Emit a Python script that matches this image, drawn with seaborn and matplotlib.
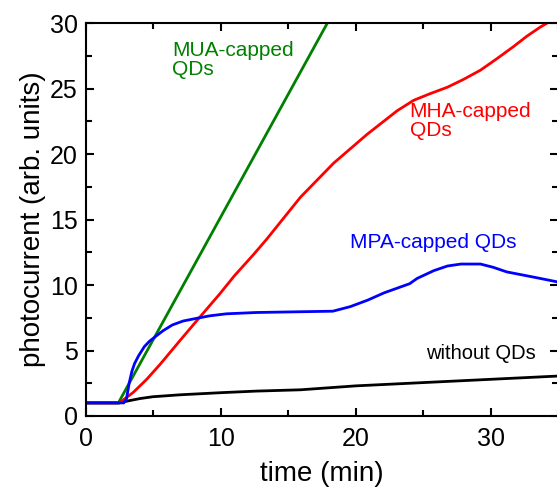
import matplotlib
matplotlib.use("Agg")
import matplotlib.pyplot as plt
from matplotlib.ticker import MultipleLocator
import pandas as pd
import seaborn as sns

# curves
t_none = [0, 1, 2, 2.45, 3.2, 4.0, 4.95, 7, 10, 12.6, 15.9, 20, 25, 30, 35]
i_none = [1.0, 1.0, 1.0, 1.0, 1.17, 1.33, 1.47, 1.62, 1.78, 1.9, 2.0, 2.3, 2.55, 2.8, 3.05]

t_mua = [0, 1, 2, 2.4, 8.66, 17.9]
i_mua = [1.0, 1.0, 1.0, 1.0, 12.7, 30.0]

t_mha = [0, 1, 2, 2.47, 3.5, 4.5, 5.5, 7.0, 8.4, 9.9, 11.0, 12.4, 13.4, 15.9, 18.36, 20.84,
         23.07, 24.3, 25.5, 26.8, 28.0, 29.25, 30.5, 31.7, 32.7, 33.7, 34.2, 35]
i_mha = [1.0, 1.0, 1.0, 1.0, 1.8, 2.8, 3.95, 5.8, 7.5, 9.3, 10.7, 12.3, 13.5, 16.7, 19.3, 21.5,
         23.3, 24.1, 24.6, 25.1, 25.7, 26.4, 27.3, 28.2, 29.0, 29.7, 30.0, 30.4]

t_mpa = [0, 1, 2, 2.8, 3.0, 3.2, 3.4, 3.6, 3.9, 4.33, 4.7, 5.07, 5.7, 6.4, 7.2, 8.17, 9.2,
         10.4, 12.6, 15.4, 18.3, 19.6, 20.9, 22.1, 24.0, 24.55, 25.8, 26.8, 27.8, 29.25,
         30.2, 31.2, 33.2, 34.9, 35]
i_mpa = [1.0, 1.0, 1.0, 1.0, 1.3, 2.5, 3.4, 4.0, 4.6, 5.3, 5.7, 6.0, 6.5, 6.95, 7.25, 7.45, 7.65,
         7.8, 7.9, 7.95, 8.0, 8.35, 8.85, 9.4, 10.1, 10.5, 11.1, 11.45, 11.6, 11.6,
         11.35, 11.0, 10.6, 10.25, 10.2]

series = [("without QDs", t_none, i_none, "black"),
          ("MUA-capped QDs", t_mua, i_mua, "green"),
          ("MHA-capped QDs", t_mha, i_mha, "red"),
          ("MPA-capped QDs", t_mpa, i_mpa, "blue")]

sns.set_style("ticks")
plt.rcParams['font.family'] = ['Liberation Sans', 'DejaVu Sans']
for k in ['text.color', 'axes.labelcolor', 'xtick.color', 'ytick.color', 'axes.edgecolor']:
    plt.rcParams[k] = 'black'

fig = plt.figure(figsize=(5.57, 4.95), dpi=100)
ax = fig.add_axes([0.1544, 0.1596, 0.8474, 0.7939])

for name, t, v, col in series:
    df = pd.DataFrame({"time": t, "pc": v})
    sns.lineplot(data=df, x="time", y="pc", color=col, lw=2, ax=ax)

ax.set_xlim(0, 35)
ax.set_ylim(0, 30)
ax.xaxis.set_major_locator(MultipleLocator(10))
ax.xaxis.set_minor_locator(MultipleLocator(5))
ax.yaxis.set_major_locator(MultipleLocator(5))
ax.yaxis.set_minor_locator(MultipleLocator(2.5))
ax.tick_params(which='both', direction='in', top=True, right=True, width=1.5)
ax.tick_params(which='major', length=6, labelsize=18)
ax.tick_params(axis='x', which='major', pad=8)
ax.tick_params(axis='y', which='major', pad=6)
ax.tick_params(which='minor', length=4)
for s in ax.spines.values():
    s.set_linewidth(1.5)

ax.set_xlabel("time (min)", fontsize=20, labelpad=7)
ax.set_ylabel("photocurrent (arb. units)", fontsize=20, labelpad=3)

ax.text(6.4, 28.6, "MUA-capped\nQDs", color="green", fontsize=15, va="top", linespacing=1.0)
ax.text(24.0, 24.0, "MHA-capped\nQDs", color="red", fontsize=15, va="top", linespacing=1.0)
ax.text(19.6, 14.0, "MPA-capped QDs", color="blue", fontsize=15, va="top")
ax.text(25.2, 5.5, "without QDs", color="black", fontsize=14.5, va="top")

fig.savefig("out.png", dpi=100)
